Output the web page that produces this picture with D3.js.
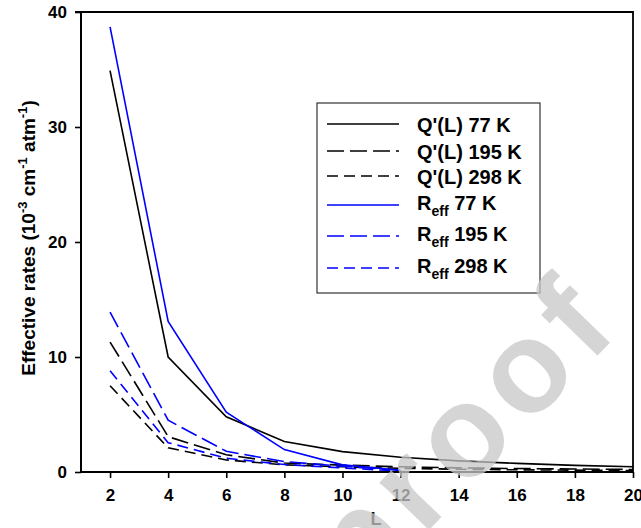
<!doctype html>
<html lang="en">
<head>
    <meta charset="utf-8">
    <title>Effective rates</title>
    <style>
        html, body { margin: 0; padding: 0; background: white; }
        svg { display: block; }
        text { font-family: Arial, "Liberation Sans", sans-serif; font-weight: bold; }
    </style>
</head>
<body>
<svg width="641" height="528"></svg>

<script src="https://d3js.org/d3.v7.min.js"></script>
<script>
    // chain length L
    var L = [2, 4, 6, 8, 10, 12, 14, 16, 18, 20];

    // Q'(L) values (10^-3 cm^-1 atm^-1)
    var q77  = [34.9, 10.0, 4.8, 2.65, 1.77, 1.28, 0.97, 0.75, 0.58, 0.45];
    var q195 = [11.3, 3.07, 1.5, 0.78, 0.6, 0.45, 0.36, 0.3, 0.26, 0.22];
    var q298 = [7.5, 2.1, 1.05, 0.62, 0.45, 0.32, 0.24, 0.19, 0.16, 0.13];

    // R_eff values, only read up to L = 12
    var r77  = [38.7, 13.1, 5.2, 1.95, 0.62, 0.15];
    var r195 = [13.9, 4.5, 1.8, 0.9, 0.5, 0.15];
    var r298 = [8.8, 2.55, 1.2, 0.65, 0.35, 0.08];

    var yTicks = [0, 10, 20, 30, 40];
    var xTicks = [2, 4, 6, 8, 10, 12, 14, 16, 18, 20];

    var series = [
        { name: "Q'(L)", temp: "77 K",  vals: q77,  color: "#000", dash: null },
        { name: "Q'(L)", temp: "195 K", vals: q195, color: "#000", dash: "17,6" },
        { name: "Q'(L)", temp: "298 K", vals: q298, color: "#000", dash: "11,6" },
        { name: "R",     temp: "77 K",  vals: r77,  color: "#0000ff", dash: null },
        { name: "R",     temp: "195 K", vals: r195, color: "#0000ff", dash: "17,6" },
        { name: "R",     temp: "298 K", vals: r298, color: "#0000ff", dash: "11,6" }
    ];

    var svg = d3.select("svg");

    var x = d3.scaleLinear().domain([1, 20]).range([81, 633]);
    var y = d3.scaleLinear().domain([0, 40]).range([472, 12]);

    var line = d3.line()
        .x(function(d) { return x(d[0]); })
        .y(function(d) { return y(d[1]); });

    // data lines
    svg.append("g")
        .attr("fill", "none")
        .attr("stroke-width", 1.6)
        .selectAll("path")
        .data(series)
        .enter().append("path")
        .attr("stroke", function(d) { return d.color; })
        .attr("stroke-dasharray", function(d) { return d.dash; })
        .attr("d", function(d) {
            return line(d.vals.map(function(v, i) { return [L[i], v]; }));
        });

    // frame: top and right
    svg.append("path")
        .attr("fill", "none")
        .attr("stroke", "#000")
        .attr("stroke-width", 1.8)
        .attr("d", "M" + (x(1) - 6) + "," + y(40) + "H" + x(20) + "V" + y(0));

    var yAxis = svg.append("g")
        .attr("transform", "translate(" + x(1) + ",0)")
        .call(d3.axisLeft(y).tickValues(yTicks).tickSize(6).tickPadding(8));

    var xAxis = svg.append("g")
        .attr("transform", "translate(0," + y(0) + ")")
        .call(d3.axisBottom(x).tickValues(xTicks).tickSize(6).tickPadding(11));

    [yAxis, xAxis].forEach(function(a) {
        a.select(".domain").attr("stroke-width", 2);
        a.selectAll(".tick line").attr("stroke-width", 1.6);
        a.selectAll(".tick text")
            .attr("font-family", "Arial, 'Liberation Sans', sans-serif")
            .attr("font-weight", "bold")
            .attr("font-size", 17)
            .attr("fill", "#000");
    });
    xAxis.select(".domain").attr("d", "M" + x(1) + ",0H" + x(20));
    yAxis.select(".domain").attr("d", "M0," + y(0) + "V" + y(40));

    // axis titles
    svg.append("text")
        .attr("x", 376)
        .attr("y", 525)
        .attr("text-anchor", "middle")
        .attr("font-size", 18)
        .text("L");

    var yt = svg.append("text")
        .attr("transform", "translate(35,238) rotate(-90)")
        .attr("text-anchor", "middle")
        .attr("font-size", 19);
    yt.append("tspan").text("Effective rates (10");
    yt.append("tspan").attr("font-size", 13).attr("dy", -8).text("-3");
    yt.append("tspan").attr("dy", 8).text(" cm");
    yt.append("tspan").attr("font-size", 13).attr("dy", -8).text("-1");
    yt.append("tspan").attr("dy", 8).text(" atm");
    yt.append("tspan").attr("font-size", 13).attr("dy", -8).text("-1");
    yt.append("tspan").attr("dy", 8).text(")");

    // legend
    var rowY = [124, 151, 176, 205, 236, 268];
    var lg = svg.append("g");
    lg.append("rect")
        .attr("x", 317).attr("y", 103)
        .attr("width", 223).attr("height", 190)
        .attr("fill", "white")
        .attr("stroke", "#333")
        .attr("stroke-width", 1.2);

    var item = lg.selectAll("g.item")
        .data(series)
        .enter().append("g")
        .attr("class", "item")
        .attr("transform", function(d, i) { return "translate(0," + rowY[i] + ")"; });

    item.append("line")
        .attr("x1", 327).attr("x2", 399)
        .attr("stroke", function(d) { return d.color; })
        .attr("stroke-width", 1.6)
        .attr("stroke-dasharray", function(d) { return d.dash; });

    item.each(function(d, i) {
        var t = d3.select(this).append("text")
            .attr("x", 417)
            .attr("y", i < 3 ? 8 : 5)
            .attr("font-size", 20);
        if (d.name === "R") {
            t.append("tspan").text("R");
            t.append("tspan").attr("font-size", 14).attr("dy", 6).text("eff");
            t.append("tspan").attr("dy", -6).text(" " + d.temp);
        } else {
            t.text(d.name + " " + d.temp);
        }
    });

    // journal watermark
    svg.append("text")
        .attr("transform", "translate(626,326) rotate(-46)")
        .attr("text-anchor", "end")
        .attr("font-size", 130)
        .attr("font-weight", "normal")
        .attr("letter-spacing", 10)
        .attr("fill", "#c8c8c8")
        .attr("opacity", 0.75)
        .text("Pre-proof");
</script>
</body>
</html>
